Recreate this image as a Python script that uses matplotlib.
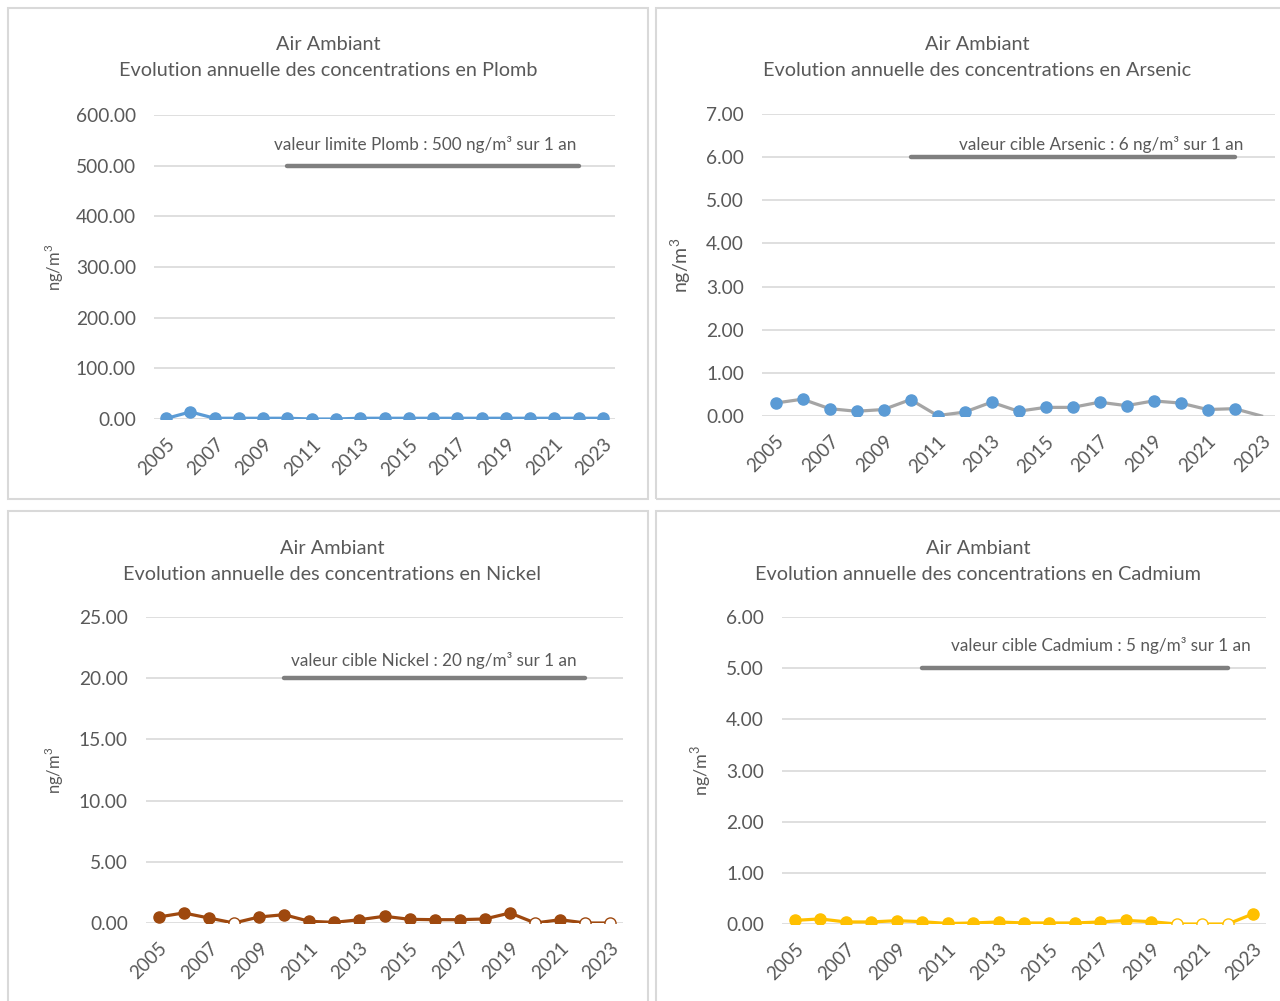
import matplotlib.pyplot as plt
from matplotlib.patches import Rectangle

plt.rcParams['font.family'] = ['Lato', 'DejaVu Sans']
plt.rcParams['mathtext.fontset'] = 'custom'
plt.rcParams['mathtext.rm'] = 'Lato'

W, H = 1280, 1001

years = [str(y) for y in range(2005, 2024)]
year_labels = [y if int(y) % 2 == 1 else "" for y in years]

# concentrations annuelles (ng/m3)
plomb = [1.0, 14.0, 1.5, 1.5, 1.5, 1.5, 0.0, 0.0, 1.5, 1.5, 1.5, 1.5, 1.5, 1.5, 1.5, 1.5, 1.5, 1.5, 1.5]
arsenic = [0.30, 0.39, 0.17, 0.11, 0.15, 0.38, 0.01, 0.09, 0.32, 0.11, 0.20, 0.20, 0.32, 0.24, 0.35, 0.30, 0.15, 0.17, 0.0]
nickel = [0.49, 0.82, 0.41, 0.0, 0.49, 0.68, 0.14, 0.05, 0.27, 0.55, 0.30, 0.27, 0.27, 0.33, 0.82, 0.0, 0.27, 0.0, 0.0]
cadmium = [0.07, 0.10, 0.04, 0.04, 0.065, 0.045, 0.01, 0.02, 0.04, 0.02, 0.02, 0.02, 0.04, 0.07, 0.045, 0.0, 0.0, 0.0, 0.20]

# 'o' = point plein, 'h' = point creux (< limite de detection), '-' = pas de marqueur
plomb_pts = ['o'] * 19
arsenic_pts = ['o'] * 18 + ['-']
nickel_pts = ['o', 'o', 'o', 'h', 'o', 'o', 'o', 'o', 'o', 'o', 'o', 'o', 'o', 'o', 'o', 'h', 'o', 'h', 'h']
cadmium_pts = ['o'] * 15 + ['h', 'h', 'h', 'o']

# valeurs réglementaires, tracées de 2010 à 2022
seuils = [500, 6, 20, 5]
seuil_debut, seuil_fin = "2010", "2022"

panels = [
    dict(nom="Plomb", data=plomb, pts=plomb_pts, line="#5B9BD5", mk="#5B9BD5",
         ymax=600, step=100, seuil=seuils[0],
         label="valeur limite Plomb : 500 ng/m³ sur 1 an", lab_dx=-0.1, lab_dy=15,
         ax=(154, 615, 115, 419), box=(8, 648, 8, 499), tx=328, ylx=-0.19, yls=12),
    dict(nom="Arsenic", data=arsenic, pts=arsenic_pts, line="#A5A5A5", mk="#5B9BD5",
         ymax=7, step=1, seuil=seuils[1],
         label="valeur cible Arsenic : 6 ng/m³ sur 1 an", lab_dx=0.33, lab_dy=9,
         ax=(762, 1275, 114, 416), box=(656, 1290, 8, 499), tx=977, ylx=-0.135, yls=14),
    dict(nom="Nickel", data=nickel, pts=nickel_pts, line="#9E480E", mk="#9E480E",
         ymax=25, step=5, seuil=seuils[2],
         label="valeur cible Nickel : 20 ng/m³ sur 1 an", lab_dx=-0.36, lab_dy=13,
         ax=(146, 623, 617, 923), box=(8, 648, 511, 1010), tx=332, ylx=-0.168, yls=12),
    dict(nom="Cadmium", data=cadmium, pts=cadmium_pts, line="#FFC000", mk="#FFC000",
         ymax=6, step=1, seuil=seuils[3],
         label="valeur cible Cadmium : 5 ng/m³ sur 1 an", lab_dx=0.9, lab_dy=16,
         ax=(782, 1266, 617, 924), box=(656, 1290, 511, 1010), tx=978, ylx=-0.142, yls=13),
]

txt = "#595959"
fig = plt.figure(figsize=(W / 100, H / 100), dpi=100)

for p in panels:
    bx0, bx1, by0, by1 = p["box"]
    fig.patches.append(Rectangle((bx0 / W, 1 - by1 / H), (bx1 - bx0) / W, (by1 - by0) / H,
                                 transform=fig.transFigure, fill=False,
                                 edgecolor="#D9D9D9", linewidth=1.5))

    x0, x1, y0, y1 = p["ax"]
    ax = fig.add_axes([x0 / W, 1 - y1 / H, (x1 - x0) / W, (y1 - y0) / H])
    x = list(range(len(years)))

    ticks = [i * p["step"] for i in range(int(p["ymax"] / p["step"]) + 1)]
    ax.set_ylim(0, p["ymax"])
    ax.set_yticks(ticks)
    ax.set_yticklabels([f"{t:.2f}" for t in ticks])
    ax.set_xlim(-0.5, len(years) - 0.5)
    ax.grid(axis="y", color="#D9D9D9", linewidth=1.2)
    ax.set_axisbelow(True)
    for s in ax.spines.values():
        s.set_visible(False)
    ax.tick_params(axis="y", length=0, pad=13, labelsize=13.8, labelcolor=txt)
    ax.tick_params(axis="x", length=0, pad=12, labelsize=13.5, labelcolor=txt)
    ax.set_xticks(x)
    ax.set_xticklabels(year_labels, rotation=45, ha="right", rotation_mode="anchor")

    # seuil
    i0, i1 = years.index(seuil_debut), years.index(seuil_fin)
    ax.plot([i0, i1], [p["seuil"], p["seuil"]], color="#7F7F7F", linewidth=3.2,
            solid_capstyle="round", zorder=3)
    ax.annotate(p["label"], xy=(i1 + p["lab_dx"], p["seuil"]), xytext=(0, p["lab_dy"]),
                textcoords="offset points", ha="right", va="center",
                fontsize=12.3, color=txt)

    # série
    ax.plot(x, p["data"], color=p["line"], linewidth=2.3, zorder=4)
    full = [i for i, m in enumerate(p["pts"]) if m == "o"]
    hollow = [i for i, m in enumerate(p["pts"]) if m == "h"]
    ax.plot(full, [p["data"][i] for i in full], linestyle="none", marker="o",
            markersize=8, color=p["mk"], zorder=5)
    if hollow:
        ax.plot(hollow, [p["data"][i] for i in hollow], linestyle="none", marker="o",
                markersize=8, markerfacecolor="white", markeredgecolor=p["mk"],
                markeredgewidth=1.0, zorder=5)

    ax.set_ylabel("ng/m$^3$", fontsize=p["yls"], color=txt)
    ax.yaxis.set_label_coords(p["ylx"], 0.5)

    ty = by0 + 37
    fig.text(p["tx"] / W, 1 - ty / H, "Air Ambiant", ha="center", va="center",
             fontsize=14.3, color=txt)
    fig.text(p["tx"] / W, 1 - (ty + 26) / H,
             f"Evolution annuelle des concentrations en {p['nom']}",
             ha="center", va="center", fontsize=14.3, color=txt)

fig.savefig("out.png", dpi=100)
